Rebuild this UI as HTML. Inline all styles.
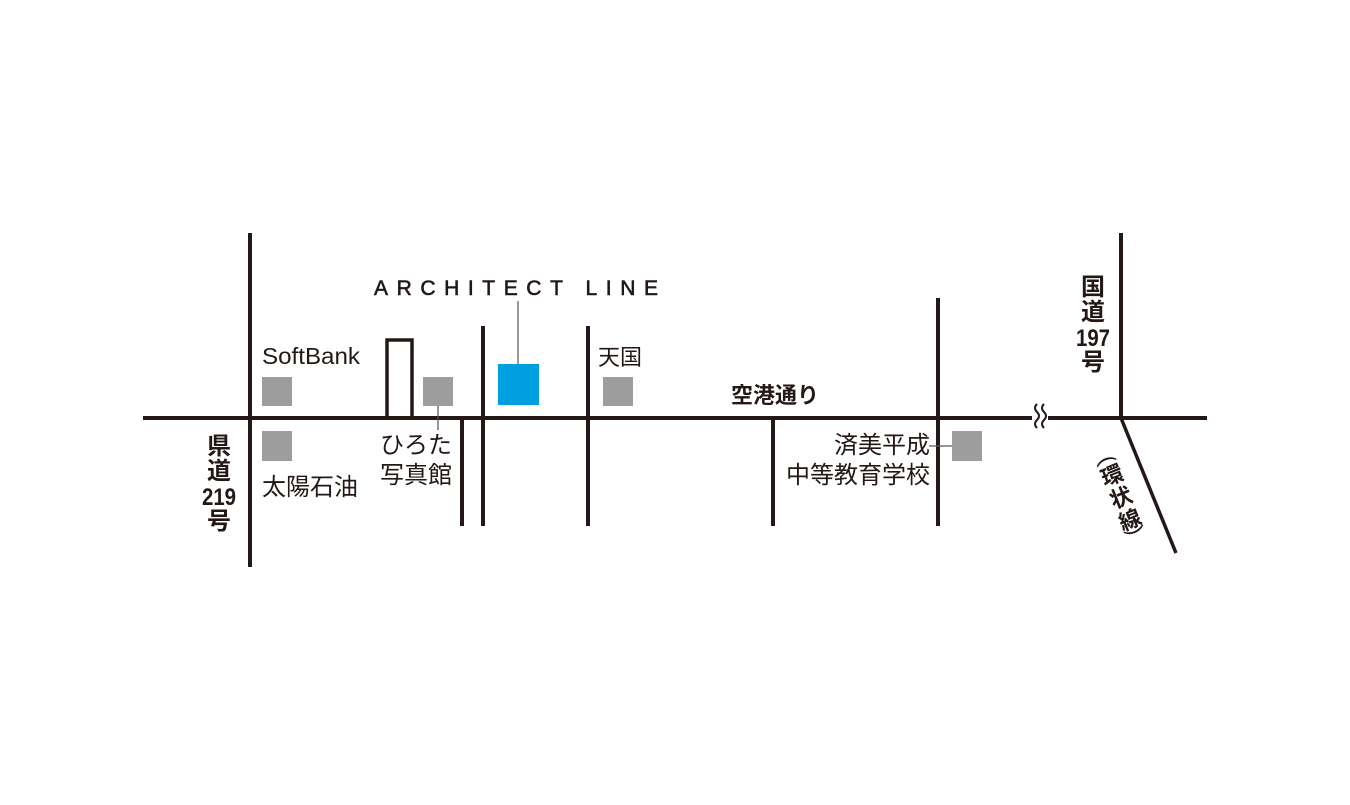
<!DOCTYPE html>
<html><head><meta charset="utf-8"><style>
body{margin:0;background:#fff;}
svg text{font-family:"Liberation Sans","Noto Sans CJK JP",sans-serif;fill:#231815;}
</style></head><body>
<svg width="1350" height="800" viewBox="0 0 1350 800" xmlns="http://www.w3.org/2000/svg">
<g stroke="#231815" stroke-width="4" fill="none">
<line x1="143" y1="418" x2="1032" y2="418"/>
<line x1="1048" y1="418" x2="1207" y2="418"/>
<line x1="250" y1="233" x2="250" y2="567"/>
<line x1="462" y1="418" x2="462" y2="526"/>
<line x1="483" y1="326" x2="483" y2="526"/>
<line x1="588" y1="326" x2="588" y2="526"/>
<line x1="773" y1="418" x2="773" y2="526"/>
<line x1="938" y1="298" x2="938" y2="526"/>
<line x1="1121" y1="233" x2="1121" y2="418"/>
<line x1="1121" y1="418" x2="1176" y2="553" stroke-width="3.5"/>
<rect x="387" y="340" width="25" height="78" stroke-width="3.5"/>
</g>
<g stroke="#231815" stroke-width="2" fill="none">
<path d="M1037 404 q-4 4 0 8 q4 4 0 8 q-4 4 0 8"/>
<path d="M1044 404 q-4 4 0 8 q4 4 0 8 q-4 4 0 8"/>
</g>
<g stroke="#555" stroke-width="1.2">
<line x1="518" y1="301" x2="518" y2="364"/>
<line x1="438" y1="406" x2="438" y2="430"/>
<line x1="929" y1="446" x2="952" y2="446"/>
</g>
<g fill="#9d9d9d">
<rect x="262" y="377" width="30" height="29"/>
<rect x="262" y="431" width="30" height="30"/>
<rect x="423" y="377" width="30" height="29"/>
<rect x="603" y="377" width="30" height="29"/>
<rect x="952" y="431" width="30" height="30"/>
</g>
<rect x="498" y="364" width="41" height="41" fill="#00a0e0"/>
<text x="374" y="295" font-size="21" letter-spacing="4" textLength="288" stroke="#231815" stroke-width="0.6">ARCHITECT LINE</text>
<text x="262" y="364" font-size="23" textLength="98" lengthAdjust="spacingAndGlyphs">SoftBank</text>
<text x="598" y="365" font-size="22">天国</text>
<text x="731" y="403" font-size="22" font-weight="bold">空港通り</text>
<text x="930" y="453" font-size="24" text-anchor="end">済美平成</text>
<text x="930" y="483" font-size="24" text-anchor="end">中等教育学校</text>
<text x="262" y="495" font-size="24">太陽石油</text>
<text x="380" y="453" font-size="24">ひろた</text>
<text x="380" y="483" font-size="24">写真館</text>
<g font-size="24" font-weight="bold" text-anchor="middle">
<text x="219" y="454">県</text>
<text x="219" y="479">道</text>
<text x="219" y="505" textLength="34" lengthAdjust="spacingAndGlyphs">219</text>
<text x="219" y="529">号</text>
<text x="1093" y="295">国</text>
<text x="1093" y="320">道</text>
<text x="1093" y="346" textLength="34" lengthAdjust="spacingAndGlyphs">197</text>
<text x="1093" y="370">号</text>
</g>
<g transform="translate(1118 490) rotate(-22)" font-size="22" font-weight="bold" text-anchor="middle">
<text x="0" y="-26" transform="rotate(90 0 -32)" font-weight="normal">(</text>
<text x="0" y="-8">環</text>
<text x="0" y="16">状</text>
<text x="0" y="40">線</text>
<text x="0" y="50" transform="rotate(90 0 44)" font-weight="normal">)</text>
</g>
</svg>
</body></html>
